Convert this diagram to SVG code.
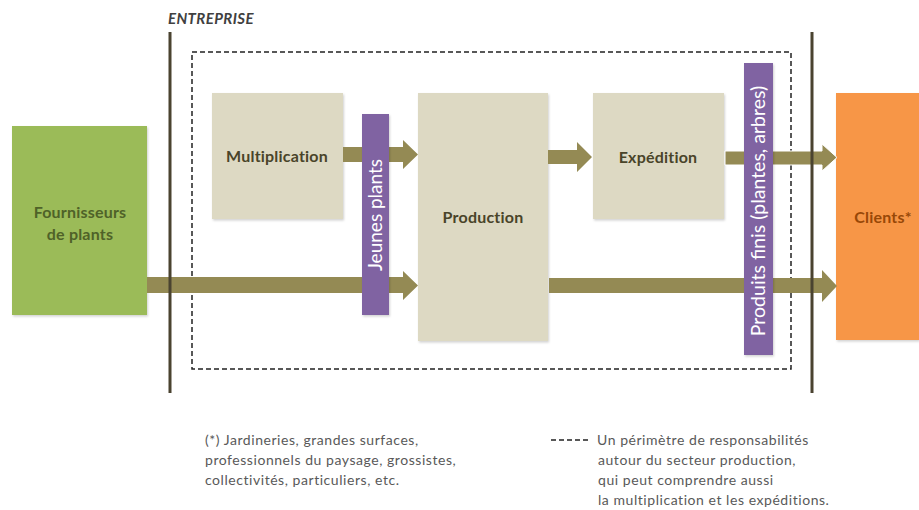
<svg xmlns="http://www.w3.org/2000/svg" width="919" height="510" viewBox="0 0 919 510">
<defs>
<style>
text{font-family:Lato,"Open Sans","Liberation Sans",sans-serif}
.box{stroke:none}
.beige{fill:#DDD9C3}
.lbl{font-weight:bold;font-size:16px;letter-spacing:0.2px;fill:#494429;text-anchor:middle}
.purple{fill:#8064A2}
.vt{fill:#fff;font-size:19.5px;text-anchor:middle}
.arrow{fill:#948A54}
.vline{stroke:#4A4330;stroke-width:3}
.note{font-size:14px;letter-spacing:0.55px;fill:#595959}
</style>
<filter id="sh" x="-10%" y="-10%" width="130%" height="130%">
<feDropShadow dx="1" dy="1.5" stdDeviation="1.2" flood-color="#000" flood-opacity="0.18"/>
</filter>
</defs>
<rect width="919" height="510" fill="#fff"/>

<g id="perimeter">
<rect x="192" y="52" width="599" height="317" fill="none" stroke="#222" stroke-width="1.5" stroke-dasharray="5,3"/>
</g>

<g id="fournisseurs">
<rect class="box" x="12" y="126" width="135" height="189" fill="#9BBB59" filter="url(#sh)"/>
<text class="lbl" x="80" y="218" style="fill:#4F6228">Fournisseurs</text>
<text class="lbl" x="80" y="240" style="fill:#4F6228">de plants</text>
</g>

<g id="multiplication">
<rect class="box beige" x="212" y="93" width="131" height="126" filter="url(#sh)"/>
<text class="lbl" x="277" y="162">Multiplication</text>
</g>

<g id="production">
<rect class="box beige" x="418" y="93" width="130" height="248" filter="url(#sh)"/>
<text class="lbl" x="483" y="223">Production</text>
</g>

<g id="expedition">
<rect class="box beige" x="593" y="93" width="131" height="126" filter="url(#sh)"/>
<text class="lbl" x="658" y="163">Expédition</text>
</g>

<g id="clients">
<rect class="box" x="836" y="93" width="83" height="247" fill="#F79646" filter="url(#sh)"/>
<text class="lbl" x="883" y="223" style="fill:#984807">Clients*</text>
</g>

<g id="connectors">
<polygon class="arrow" points="343,147 403,147 403,140 418,154.5 403,169 403,162 343,162"/>
<polygon class="arrow" points="147,277 403,277 403,271 418,285.5 403,300 403,293 147,293"/>
<polygon class="arrow" points="548,150 577,150 577,142 592,157 577,172 577,164 548,164"/>
<polygon class="arrow" points="725,151 822,151 822,144 837,157.5 822,171 822,165 725,165" stroke="#fff" stroke-width="1"/>
<polygon class="arrow" points="549,278 822,278 822,270 837,286 822,302 822,293 549,293"/>
</g>

<g id="jeunes-plants">
<rect class="box purple" x="362" y="114" width="27" height="201" filter="url(#sh)"/>
<text class="vt" transform="translate(382,215) rotate(-90)" style="font-size:19px">Jeunes plants</text>
</g>

<g id="produits-finis">
<rect class="box purple" x="744" y="63" width="29" height="292" filter="url(#sh)"/>
<text class="vt" transform="translate(765,211) rotate(-90)">Produits finis (plantes, arbres)</text>
</g>

<g id="entreprise-boundary">
<line class="vline" x1="170" y1="32" x2="170" y2="393"/>
<line class="vline" x1="812" y1="32" x2="812" y2="393"/>
<text x="168" y="24" font-size="15" letter-spacing="0.4" font-weight="bold" font-style="italic" fill="#404040">ENTREPRISE</text>
</g>

<g id="note-clients">
<text class="note" x="205" y="445">(*) Jardineries, grandes surfaces,</text>
<text class="note" x="205" y="465">professionnels du paysage, grossistes,</text>
<text class="note" x="205" y="485">collectivités, particuliers, etc.</text>
</g>

<g id="legend-perimeter">
<line x1="551" y1="440" x2="590" y2="440" stroke="#222" stroke-width="1.5" stroke-dasharray="5,3"/>
<text class="note" x="597" y="445">Un périmètre de responsabilités</text>
<text class="note" x="598" y="465">autour du secteur production,</text>
<text class="note" x="598" y="485">qui peut comprendre aussi</text>
<text class="note" x="598" y="505">la multiplication et les expéditions.</text>
</g>
</svg>
